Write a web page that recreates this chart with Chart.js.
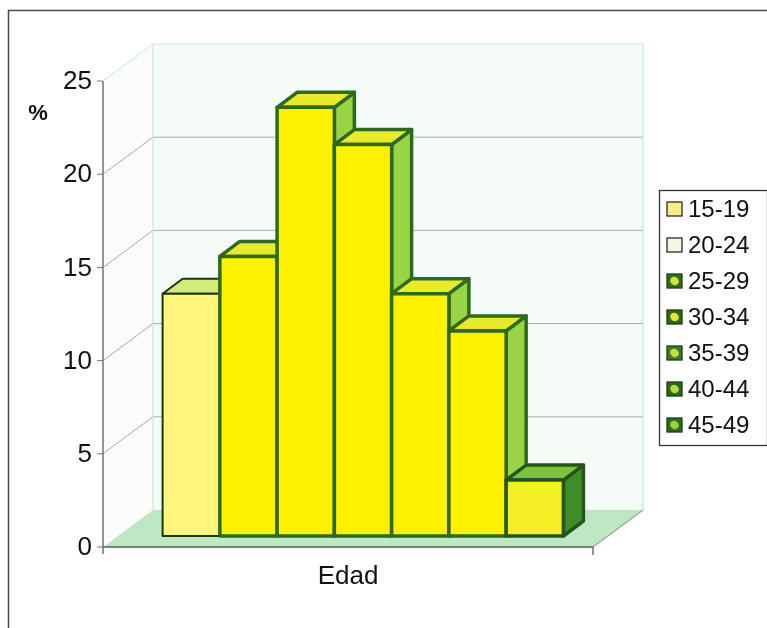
<!DOCTYPE html>
<html>
<head>
<meta charset="utf-8">
<script src="https://cdn.jsdelivr.net/npm/chart.js@4.4.1/dist/chart.umd.min.js"></script>
<style>
  html, body { margin: 0; padding: 0; background: #ffffff; }
  #wrap { width: 767px; height: 628px; position: relative; }
</style>
</head>
<body>
<div id="wrap"><canvas id="c" width="767" height="628"></canvas></div>
<script>
// Distribución por grupos de edad (%)
const categories = ['Edad'];
const ageGroups = ['15-19', '20-24', '25-29', '30-34', '35-39', '40-44', '45-49'];
const percentages = [13, 15, 23, 21, 13, 11, 3];
const yTicks = [0, 5, 10, 15, 20, 25];
const axisUnit = '%';

// Face colours for each column: front, top, side, outline, outline width
const faceStyles = [
  { front: '#fff57c', top: '#d3ea7c', side: '#a9d862', edge: '#1c3514', w: 2 },
  { front: '#fff200', top: '#e9ea2c', side: '#98d444', edge: '#2d6a1e', w: 3.5 },
  { front: '#fff200', top: '#e9ea2c', side: '#98d444', edge: '#2d6a1e', w: 3.5 },
  { front: '#fff200', top: '#e9ea2c', side: '#98d444', edge: '#2d6a1e', w: 3.5 },
  { front: '#fff200', top: '#e9ea2c', side: '#98d444', edge: '#2d6a1e', w: 3.5 },
  { front: '#fff200', top: '#e9ea2c', side: '#98d444', edge: '#2d6a1e', w: 3.5 },
  { front: '#f3ef24', top: '#7cc43a', side: '#3f8c28', edge: '#24561a', w: 3.5 }
];
const legendSwatches = [
  { fill: '#f6ee84', inner: null, edge: '#2a2a2a' },
  { fill: '#f7f6e6', inner: null, edge: '#2a2a2a' },
  { fill: '#2f6e1f', inner: '#d6e43a', edge: '#1d3d12' },
  { fill: '#2b6a1c', inner: '#e4e62e', edge: '#1d3d12' },
  { fill: '#3a7d26', inner: '#c4e040', edge: '#1d3d12' },
  { fill: '#2b661c', inner: '#b8dc3c', edge: '#1d3d12' },
  { fill: '#2e6c20', inner: '#9ed23c', edge: '#1d3d12' }
];

// Perspective offsets relative to the plane of the column fronts
const FRONT = { dx: -15, dy: 11 };   // front edge of the floor / value axis
const DEPTH = { dx: 20, dy: -15 };   // column depth
const BACK = { dx: 35, dy: -26 };    // back wall

const FONT = '"Liberation Sans", Arial, sans-serif';

function poly(ctx, pts) {
  ctx.beginPath();
  ctx.moveTo(pts[0][0], pts[0][1]);
  for (let k = 1; k < pts.length; k++) ctx.lineTo(pts[k][0], pts[k][1]);
  ctx.closePath();
}

const boxPlugin = {
  id: 'box3d',
  beforeDatasetsDraw(chart) {
    const { ctx, chartArea: a, scales } = chart;
    const ys = scales.y;
    const y0 = ys.getPixelForValue(0);
    const yTop = ys.getPixelForValue(yTicks[yTicks.length - 1]);
    const fl = a.left + FRONT.dx, fr = a.right + FRONT.dx;
    const bl = a.left + BACK.dx, br = a.right + BACK.dx;
    ctx.save();

    // outer frame
    ctx.strokeStyle = '#4a4a4a';
    ctx.lineWidth = 1.5;
    ctx.strokeRect(8.5, 10.5, 800, 700);

    // back wall
    ctx.fillStyle = '#f5fbf7';
    ctx.fillRect(bl, yTop + BACK.dy, br - bl, y0 - yTop);
    // side wall
    ctx.fillStyle = '#fbfdfc';
    poly(ctx, [[fl, yTop + FRONT.dy], [bl, yTop + BACK.dy], [bl, y0 + BACK.dy], [fl, y0 + FRONT.dy]]);
    ctx.fill();
    // floor
    ctx.fillStyle = '#bde8c3';
    poly(ctx, [[fl, y0 + FRONT.dy], [fr, y0 + FRONT.dy], [br, y0 + BACK.dy], [bl, y0 + BACK.dy]]);
    ctx.fill();

    // gridlines on back and side walls
    yTicks.forEach(v => {
      if (v === 0) return;
      const yb = ys.getPixelForValue(v);
      const top = v === yTicks[yTicks.length - 1];
      ctx.strokeStyle = top ? '#c6ead0' : '#a9aea9';
      ctx.lineWidth = 1;
      ctx.beginPath();
      ctx.moveTo(fl, yb + FRONT.dy);
      ctx.lineTo(bl, yb + BACK.dy);
      ctx.lineTo(br, yb + BACK.dy);
      ctx.stroke();
    });
    // wall edges
    ctx.strokeStyle = '#c6ead0';
    ctx.lineWidth = 1.2;
    ctx.beginPath();
    ctx.moveTo(bl, yTop + BACK.dy);
    ctx.lineTo(bl, y0 + BACK.dy);
    ctx.moveTo(br, yTop + BACK.dy);
    ctx.lineTo(br, y0 + BACK.dy);
    ctx.stroke();
    // floor side edge
    ctx.strokeStyle = '#9aa59c';
    ctx.beginPath();
    ctx.moveTo(fr, y0 + FRONT.dy);
    ctx.lineTo(br, y0 + BACK.dy);
    ctx.stroke();

    // value axis and floor front edge
    ctx.strokeStyle = '#5a5f5a';
    ctx.lineWidth = 1.3;
    ctx.beginPath();
    ctx.moveTo(fl, yTop + FRONT.dy);
    ctx.lineTo(fl, y0 + FRONT.dy + 7);
    ctx.moveTo(fl, y0 + FRONT.dy);
    ctx.lineTo(fr, y0 + FRONT.dy);
    ctx.moveTo(fr, y0 + FRONT.dy);
    ctx.lineTo(fr, y0 + FRONT.dy + 8);
    ctx.stroke();

    // tick marks and labels
    ctx.fillStyle = '#111';
    ctx.font = '26px ' + FONT;
    ctx.textAlign = 'right';
    ctx.textBaseline = 'middle';
    yTicks.forEach(v => {
      const yf = ys.getPixelForValue(v) + FRONT.dy;
      ctx.strokeStyle = '#777';
      ctx.lineWidth = 1;
      ctx.beginPath();
      ctx.moveTo(fl - 6, yf);
      ctx.lineTo(fl, yf);
      ctx.stroke();
      ctx.fillText(String(v), fl - 11, yf + 1);
    });
    ctx.restore();
  },
  // Columns are painted left to right so each one hides the side of its neighbour
  afterDatasetsDraw(chart) {
    const { ctx } = chart;
    chart.data.datasets.forEach((ds, i) => {
      const s = faceStyles[i];
      chart.getDatasetMeta(i).data.forEach(el => {
        const p = el.getProps(['x', 'y', 'base', 'width'], true);
        const l = p.x - p.width / 2, r = p.x + p.width / 2;
        ctx.save();
        ctx.lineJoin = 'round';
        ctx.strokeStyle = s.edge;
        ctx.lineWidth = s.w;
        // side face
        ctx.fillStyle = s.side;
        poly(ctx, [[r, p.y], [r + DEPTH.dx, p.y + DEPTH.dy], [r + DEPTH.dx, p.base + DEPTH.dy], [r, p.base]]);
        ctx.fill();
        ctx.stroke();
        // top face
        ctx.fillStyle = s.top;
        poly(ctx, [[l, p.y], [l + DEPTH.dx, p.y + DEPTH.dy], [r + DEPTH.dx, p.y + DEPTH.dy], [r, p.y]]);
        ctx.fill();
        ctx.stroke();
        // front face
        ctx.fillStyle = s.front;
        poly(ctx, [[l, p.y], [r, p.y], [r, p.base], [l, p.base]]);
        ctx.fill();
        ctx.stroke();
        ctx.restore();
      });
    });
  },
  afterDraw(chart) {
    const { ctx } = chart;
    ctx.save();
    // axis captions
    ctx.fillStyle = '#111';
    ctx.font = 'bold 22px ' + FONT;
    ctx.textAlign = 'center';
    ctx.textBaseline = 'middle';
    ctx.fillText(axisUnit, 38, 114);
    ctx.font = '26px ' + FONT;
    const cx = chart.scales.x.getPixelForValue(0) + FRONT.dx;
    ctx.fillText(categories[0], cx, 577);

    // legend
    const lx = 659, ly = 190, lw = 108, lh = 255;
    ctx.fillStyle = '#ffffff';
    ctx.fillRect(lx, ly, lw, lh);
    ctx.strokeStyle = '#333';
    ctx.lineWidth = 1.3;
    ctx.strokeRect(lx + 0.5, ly + 0.5, lw, lh);
    ctx.textAlign = 'left';
    ctx.font = '24px ' + FONT;
    chart.data.datasets.forEach((ds, i) => {
      const cy = 209 + i * 36;
      const sw = legendSwatches[i];
      ctx.fillStyle = sw.fill;
      ctx.fillRect(667, cy - 7, 15, 14);
      if (sw.inner) {
        ctx.fillStyle = sw.inner;
        ctx.beginPath();
        ctx.ellipse(674.5, cy, 4.5, 4, 0.6, 0, Math.PI * 2);
        ctx.fill();
      }
      ctx.strokeStyle = sw.edge;
      ctx.lineWidth = 1.3;
      ctx.strokeRect(667, cy - 7, 15, 14);
      ctx.fillStyle = '#111';
      ctx.fillText(ds.label, 688, cy + 1);
    });
    ctx.restore();
  }
};

const datasets = ageGroups.map((g, i) => ({
  label: g,
  data: [percentages[i]],
  backgroundColor: faceStyles[i].front,
  borderColor: faceStyles[i].edge,
  borderWidth: 0,
  categoryPercentage: 0.818,
  barPercentage: 1
}));

new Chart(document.getElementById('c'), {
  type: 'bar',
  data: { labels: categories, datasets },
  options: {
    responsive: false,
    animation: false,
    layout: { padding: { left: 118, right: 159, top: 70, bottom: 92 } },
    plugins: { legend: { display: false }, tooltip: { enabled: false }, title: { display: false } },
    scales: {
      x: { display: false },
      y: { display: false, min: 0, max: 25 }
    }
  },
  plugins: [boxPlugin]
});
</script>
</body>
</html>
